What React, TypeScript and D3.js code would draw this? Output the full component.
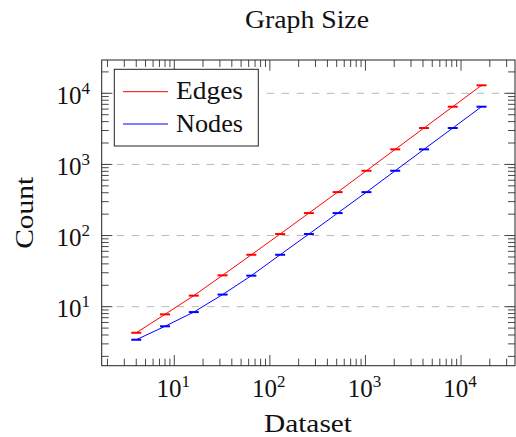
import React from "react";
import * as d3 from "d3";

const datasetSizes = [4, 8, 16, 32, 64, 128, 256, 512, 1024, 2048, 4096, 8192, 16384];
const edgeCounts = [4.3, 7.8, 14.3, 27.6, 53.7, 105, 207, 408, 815, 1630, 3250, 6480, 12950];
const nodeCounts = [3.43, 5.3, 8.4, 14.8, 27.3, 53.7, 105, 207, 408, 815, 1630, 3250, 6480];
const seriesNames = ["Edges", "Nodes"];
const seriesColors = ["#ff0000", "#0000ff"];
const xTickExponents = [1, 2, 3, 4];
const yTickExponents = [1, 2, 3, 4];
const title = "Graph Size";
const xLabel = "Dataset";
const yLabel = "Count";

const W = 516;
const H = 437;
const L = 101.7, R = 515, T = 60, B = 365.7;
const FONT = "'Liberation Serif', 'Times New Roman', serif";

export default function App() {
  const x = d3.scaleLog().domain([1.74, 36700]).range([L, R]);
  const y = d3.scaleLog().domain([1.48, 29400]).range([B, T]);

  const xMinor: number[] = [];
  const yMinor: number[] = [];
  for (let e = 0; e <= 4; e++) {
    for (let m = 1; m <= 9; m++) {
      const v = m * Math.pow(10, e);
      if (m === 1) continue;
      if (v >= 1.74 && v <= 36700) xMinor.push(v);
      if (v >= 1.48 && v <= 29400) yMinor.push(v);
    }
  }

  const line = d3
    .line<number>()
    .x((_, i) => x(datasetSizes[i]))
    .y((d) => y(d));

  const series = [edgeCounts, nodeCounts];

  return (
    <svg
      width={W}
      height={H}
      style={{ position: "absolute", left: 0, top: 0, background: "#fff" }}
      fontFamily={FONT}
    >
      <rect x={0} y={0} width={W} height={H} fill="#fff" />
      {/* grid */}
      {yTickExponents.map((e) => (
        <line
          key={"g" + e}
          x1={L}
          x2={R}
          y1={y(Math.pow(10, e))}
          y2={y(Math.pow(10, e))}
          stroke="#b8b8b8"
          strokeWidth={1}
          strokeDasharray="7.5 7.5"
        />
      ))}
      {/* minor ticks */}
      {xMinor.map((v, i) => (
        <g key={"xm" + i} stroke="#333" strokeWidth={0.9}>
          <line x1={x(v)} x2={x(v)} y1={B} y2={B - 7} />
          <line x1={x(v)} x2={x(v)} y1={T} y2={T + 7} />
        </g>
      ))}
      {yMinor.map((v, i) => (
        <g key={"ym" + i} stroke="#333" strokeWidth={0.9}>
          <line x1={L} x2={L + 7} y1={y(v)} y2={y(v)} />
          <line x1={R} x2={R - 7} y1={y(v)} y2={y(v)} />
        </g>
      ))}
      {/* major ticks */}
      {xTickExponents.map((e) => {
        const px = x(Math.pow(10, e));
        return (
          <g key={"xM" + e} stroke="#333" strokeWidth={0.9}>
            <line x1={px} x2={px} y1={B} y2={B - 10.7} />
            <line x1={px} x2={px} y1={T} y2={T + 10.7} />
          </g>
        );
      })}
      {yTickExponents.map((e) => {
        const py = y(Math.pow(10, e));
        return (
          <g key={"yM" + e} stroke="#333" strokeWidth={0.9}>
            <line x1={L} x2={L + 10.7} y1={py} y2={py} />
            <line x1={R} x2={R - 10.7} y1={py} y2={py} />
          </g>
        );
      })}
      {/* series */}
      {series.map((s, k) => (
        <g key={"s" + k}>
          <path d={line(s) || ""} fill="none" stroke={seriesColors[k]} strokeWidth={1} />
          {s.map((v, i) => (
            <line
              key={i}
              x1={x(datasetSizes[i]) - 5}
              x2={x(datasetSizes[i]) + 5}
              y1={y(v)}
              y2={y(v)}
              stroke={seriesColors[k]}
              strokeWidth={2}
            />
          ))}
        </g>
      ))}
      {/* frame */}
      <rect x={L} y={T} width={R - L} height={B - T} fill="none" stroke="#222" strokeWidth={1} />
      {/* tick labels */}
      {xTickExponents.map((e) => (
        <text key={"xl" + e} x={x(Math.pow(10, e)) - 1} y={397} textAnchor="middle" fontSize={25} fill="#111">
          10<tspan fontSize={17} dy={-10}>{e}</tspan>
        </text>
      ))}
      {yTickExponents.map((e) => (
        <text key={"yl" + e} x={90} y={y(Math.pow(10, e)) + 10.6} textAnchor="end" fontSize={25} fill="#111">
          10<tspan fontSize={17} dy={-10}>{e}</tspan>
        </text>
      ))}
      {/* title & labels */}
      <text x={307} y={28} textAnchor="middle" fontSize={25} fill="#111" textLength={124} lengthAdjust="spacingAndGlyphs">
        {title}
      </text>
      <text x={308} y={432} textAnchor="middle" fontSize={25} fill="#111" textLength={88} lengthAdjust="spacingAndGlyphs">
        {xLabel}
      </text>
      <text
        transform={`translate(33, ${(T + B) / 2}) rotate(-90)`}
        textAnchor="middle"
        fontSize={25}
        fill="#111"
        textLength={72}
        lengthAdjust="spacingAndGlyphs"
      >
        {yLabel}
      </text>
      {/* legend */}
      <rect x={114.3} y={69.3} width={144} height={76.7} fill="#fff" stroke="#222" strokeWidth={1} />
      {seriesNames.map((n, k) => {
        const ly = k === 0 ? 91.7 : 124;
        return (
          <g key={"lg" + k}>
            <line x1={123} x2={168} y1={ly} y2={ly} stroke={seriesColors[k]} strokeWidth={1} />
            <text x={176} y={ly + 7.5} fontSize={25} fill="#111" textLength={67} lengthAdjust="spacingAndGlyphs">
              {n}
            </text>
          </g>
        );
      })}
    </svg>
  );
}
